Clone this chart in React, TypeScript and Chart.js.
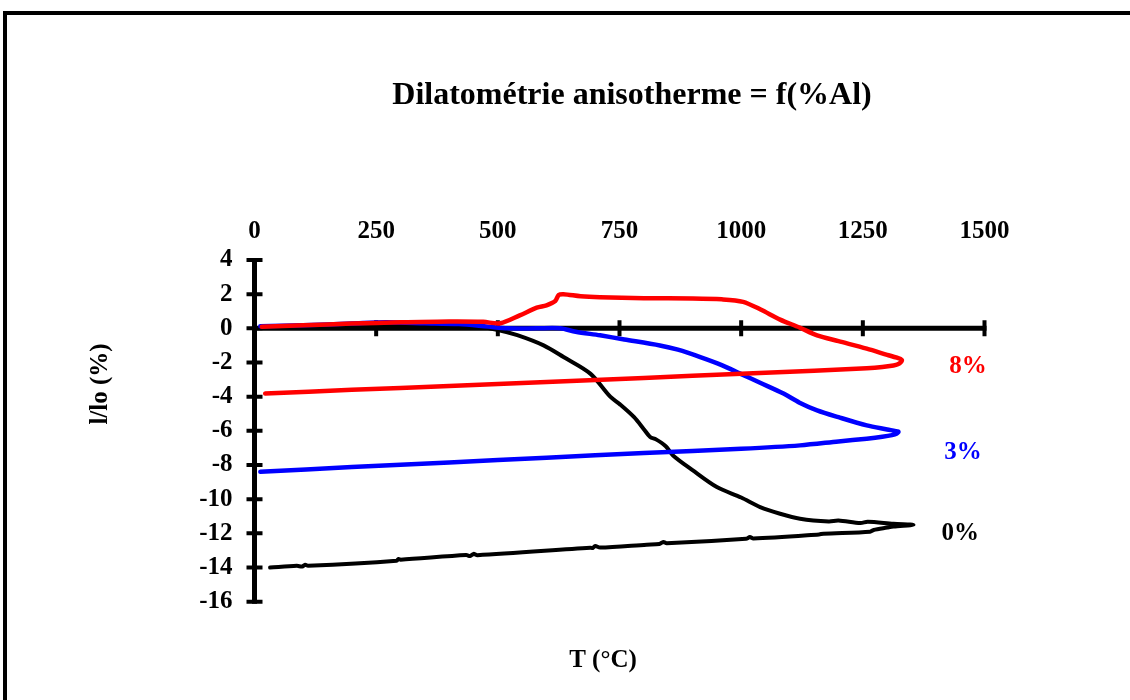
import React, { useEffect, useRef } from "react";
import { Chart, registerables } from "chart.js";

Chart.register(...registerables);

// ---- Data ----
const titleText = "Dilatométrie anisotherme = f(%Al)";
const xAxisTitle = "T (°C)";
const yAxisTitle = "l/lo (%)";
const xTickValues = [0, 250, 500, 750, 1000, 1250, 1500];
const yTickValues = [4, 2, 0, -2, -4, -6, -8, -10, -12, -14, -16];

const seriesNames = ["8%", "3%", "0%"];
const seriesColors = ["#ff0000", "#0000ff", "#000000"];

// 8% Al : heating then cooling (T, l/lo)
const t8 = [15, 100, 200, 300, 400, 470, 505, 545, 580, 600, 618, 625, 635, 670, 710, 800, 900, 960, 1004, 1040, 1080, 1120, 1156, 1200, 1258, 1300, 1320, 1330,
  1328, 1322, 1313, 1290, 1258, 1150, 1000, 800, 600, 400, 200, 22];
const v8 = [0.1, 0.18, 0.28, 0.35, 0.4, 0.38, 0.3, 0.76, 1.21, 1.35, 1.6, 1.95, 2.0, 1.88, 1.82, 1.76, 1.75, 1.7, 1.55, 1.1, 0.51, 0.05, -0.41, -0.75, -1.19, -1.55, -1.72, -1.85,
  -1.98, -2.1, -2.17, -2.26, -2.33, -2.48, -2.66, -2.9, -3.14, -3.38, -3.6, -3.82];

// 3% Al
const t3 = [12, 100, 200, 270, 350, 420, 480, 520, 580, 628, 660, 710, 760, 833, 870, 916, 960, 998, 1040, 1087, 1120, 1156, 1200, 1258, 1300, 1323,
  1320, 1310, 1290, 1258, 1200, 1121, 1000, 800, 600, 400, 200, 12];
const v3 = [0.12, 0.18, 0.28, 0.35, 0.3, 0.25, 0.1, 0.0, 0.0, 0.0, -0.2, -0.41, -0.65, -1.0, -1.25, -1.68, -2.15, -2.65, -3.2, -3.82, -4.35, -4.8, -5.2, -5.68, -5.92, -6.05,
  -6.15, -6.25, -6.35, -6.46, -6.62, -6.85, -7.05, -7.3, -7.57, -7.85, -8.12, -8.4];

// 0% Al
const t0 = [20, 100, 200, 300, 400, 443, 498, 540, 594, 635, 690, 731, 751, 780, 800, 813, 825, 845, 860, 900, 950, 1000, 1039, 1080, 1121, 1180, 1200, 1245, 1260, 1313, 1354,
  1313, 1300, 1272, 1265, 1169, 1160, 1025, 1018, 1010, 847, 840, 832, 806, 710, 700, 695, 690, 458, 450, 443, 435, 300, 296, 292, 110, 104, 98, 87, 32];
const v0 = [0.1, 0.15, 0.2, 0.25, 0.25, 0.18, -0.08, -0.4, -1.0, -1.68, -2.65, -4.0, -4.45, -5.2, -5.9, -6.36, -6.5, -6.9, -7.44, -8.3, -9.29, -9.9, -10.46, -10.85, -11.14, -11.3, -11.25, -11.4, -11.32, -11.44, -11.5,
  -11.6, -11.66, -11.8, -11.9, -12.02, -12.06, -12.3, -12.22, -12.32, -12.58, -12.5, -12.62, -12.66, -12.83, -12.74, -12.86, -12.84, -13.28, -13.2, -13.33, -13.27, -13.54, -13.5, -13.6, -13.9, -13.84, -13.94, -13.9, -14.0];

// Series end labels (T, l/lo)
const labelT = [1466, 1456, 1450];
const labelV = [-2.22, -7.26, -12.0];

const FONT = "'Liberation Serif', 'Times New Roman', serif";

function toPoints(t: number[], v: number[]) {
  return t.map((x, i) => ({ x, y: v[i] }));
}

const axesPlugin = {
  id: "customAxes",
  beforeDatasetsDraw(chart: any) {
    const { ctx } = chart;
    const x = chart.scales.x;
    const y = chart.scales.y;
    const y0 = y.getPixelForValue(0);
    const xl = x.getPixelForValue(xTickValues[0]);
    const xr = x.getPixelForValue(xTickValues[xTickValues.length - 1]);
    const yt = y.getPixelForValue(yTickValues[0]);
    const yb = y.getPixelForValue(yTickValues[yTickValues.length - 1]);
    ctx.save();
    ctx.strokeStyle = "#000";
    ctx.lineCap = "butt";
    ctx.lineWidth = 5;
    ctx.beginPath();
    ctx.moveTo(xl, y0);
    ctx.lineTo(xr + 2, y0);
    ctx.stroke();
    ctx.beginPath();
    ctx.moveTo(xl, yt - 2);
    ctx.lineTo(xl, yb + 2);
    ctx.stroke();
    ctx.lineWidth = 4;
    ctx.beginPath();
    for (const v of xTickValues) {
      const px = x.getPixelForValue(v);
      ctx.moveTo(px, y0 - 8);
      ctx.lineTo(px, y0 + 8);
    }
    for (const v of yTickValues) {
      const py = y.getPixelForValue(v);
      ctx.moveTo(xl - 8, py);
      ctx.lineTo(xl + 8, py);
    }
    ctx.stroke();
    ctx.restore();
  },
  afterDraw(chart: any) {
    const { ctx } = chart;
    const x = chart.scales.x;
    const y = chart.scales.y;
    ctx.save();
    ctx.textAlign = "center";
    ctx.textBaseline = "middle";
    ctx.fillStyle = "#000";
    ctx.font = `bold 32px ${FONT}`;
    ctx.fillText(titleText, 632, 96);
    ctx.font = `bold 25px ${FONT}`;
    ctx.fillText(xAxisTitle, 603, 661);
    ctx.save();
    ctx.translate(101, 384);
    ctx.rotate(-Math.PI / 2);
    ctx.fillText(yAxisTitle, 0, 0);
    ctx.restore();
    seriesNames.forEach((name, i) => {
      ctx.fillStyle = seriesColors[i];
      ctx.fillText(name, x.getPixelForValue(labelT[i]), y.getPixelForValue(labelV[i]));
    });
    ctx.restore();
  },
};

export default function App() {
  const canvasRef = useRef<HTMLCanvasElement | null>(null);

  useEffect(() => {
    const canvas = canvasRef.current;
    if (!canvas) return;
    const ds = [
      { t: t8, v: v8, w: 4.5 },
      { t: t3, v: v3, w: 4.5 },
      { t: t0, v: v0, w: 4 },
    ];
    const chart = new Chart(canvas, {
      type: "scatter",
      data: {
        datasets: ds.map((d, i) => ({
          label: seriesNames[i],
          data: toPoints(d.t, d.v),
          showLine: true,
          borderColor: seriesColors[i],
          backgroundColor: seriesColors[i],
          borderWidth: d.w,
          pointRadius: 0,
          tension: 0.3,
          borderJoinStyle: "round" as const,
          borderCapStyle: "round" as const,
        })),
      },
      options: {
        responsive: false,
        animation: false,
        devicePixelRatio: 1,
        layout: { padding: { left: 0, top: 0, right: 145.5, bottom: 98.3 } },
        plugins: {
          legend: { display: false },
          title: { display: false },
          tooltip: { enabled: false },
        },
        scales: {
          x: {
            type: "linear",
            position: "top",
            min: 0,
            max: 1500,
            afterFit: (s: any) => { s.height = 260; },
            afterBuildTicks: (s: any) => { s.ticks = xTickValues.map((v) => ({ value: v })); },
            grid: { display: false, drawTicks: false },
            border: { display: false },
            ticks: {
              padding: 13,
              color: "#000",
              font: { family: FONT, size: 25, weight: "bold" },
              maxRotation: 0,
              callback: (v: any) => String(v),
            },
          },
          y: {
            type: "linear",
            position: "left",
            min: -16,
            max: 4,
            afterFit: (s: any) => { s.width = 254.5; },
            afterBuildTicks: (s: any) => { s.ticks = yTickValues.map((v) => ({ value: v })); },
            grid: { display: false, drawTicks: false },
            border: { display: false },
            ticks: {
              padding: 22,
              color: "#000",
              font: { family: FONT, size: 25, weight: "bold" },
              callback: (v: any) => String(v),
            },
          },
        },
      },
      plugins: [axesPlugin],
    });
    return () => chart.destroy();
  }, []);

  return (
    <div style={{ position: "absolute", left: 0, top: 0, width: 1130, height: 700, background: "#fff", overflow: "hidden" }}>
      <div
        style={{
          position: "absolute",
          left: 3,
          top: 11,
          width: 1200,
          height: 800,
          borderTop: "4px solid #000",
          borderLeft: "4px solid #000",
        }}
      />
      <canvas ref={canvasRef} width={1130} height={700} style={{ position: "absolute", left: 0, top: 0, display: "block" }} />
    </div>
  );
}
